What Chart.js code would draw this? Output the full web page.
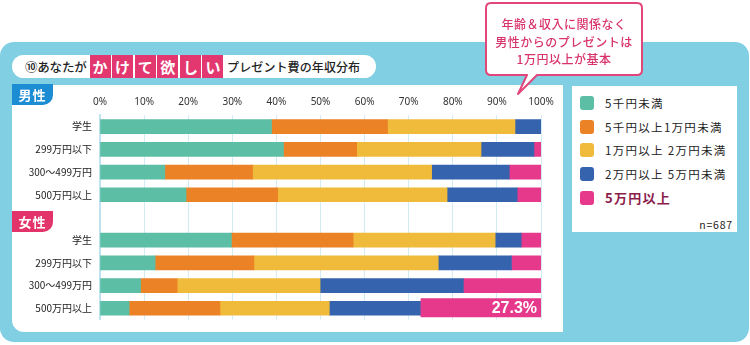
<!DOCTYPE html>
<html lang="ja">
<head>
<meta charset="utf-8">
<script src="https://cdn.jsdelivr.net/npm/chart.js@4"></script>
<style>
  html, body { margin: 0; padding: 0; background: #fff; }
  body { width: 750px; height: 345px; position: relative; overflow: hidden;
         font-family: "Noto Sans CJK JP", "Noto Sans", sans-serif; color: #222; }
  .abs { position: absolute; }
  #outer { left: 0; top: 42px; width: 749px; height: 300px; background: #80cfe3; border-radius: 14px; }
  #plotbg { left: 12px; top: 85px; width: 551px; height: 247px; background: #fff; border-radius: 0 0 0 12px; }
  #pill { left: 12px; top: 55px; width: 364px; height: 23px; background: #fff; border-radius: 12px; }
  #title { left: 25px; top: 55px; height: 23px; display: flex; align-items: center; font-size: 12.5px; font-weight: 500; }
  #title .k { display: inline-block; width: 21px; height: 23px; line-height: 23px; margin-right: 1.6px;
              background: #e2376f; color: #fff; text-align: center; font-size: 15px; font-weight: 700; }
  #title .pre { margin-right: 3px; letter-spacing: -0.2px; }
  #title .post { margin-left: 2px; font-size: 12px; letter-spacing: 0.1px; }
  .badge { left: 12px; width: 41px; height: 21px; color: #fff; font-weight: 700; font-size: 13px;
           line-height: 21px; text-align: center; letter-spacing: 1px; border-radius: 0 0 10px 0; z-index: 3; }
  #male { top: 84px; background: #1d8dd3; }
  #female { top: 211px; background: #e2336b; }
  #legendBox { left: 572px; top: 86px; width: 165px; height: 146px; background: #fff; }
  .li { position: absolute; left: 8px; height: 16px; display: flex; align-items: center; font-size: 11.5px; letter-spacing: 1.3px; }
  .sw { width: 14px; height: 14px; border-radius: 3px; margin-right: 11px; }
  #n { right: 4px; top: 131px; font-size: 10.5px; letter-spacing: 0.8px; }
  canvas { position: absolute; left: 0; top: 0; z-index: 2; }
  #callout { left: 0; top: 0; z-index: 4; }
  #ctext { left: 485px; top: 15px; width: 158px; text-align: center; z-index: 5; color: #d8336a;
           font-size: 12px; font-weight: 500; line-height: 17.5px; letter-spacing: 0.5px; }
</style>
</head>
<body>
<div id="outer" class="abs"></div>
<div id="plotbg" class="abs"></div>
<div id="pill" class="abs"></div>
<div id="title" class="abs">
  <span class="pre">⑩あなたが</span><span class="k">か</span><span class="k">け</span><span class="k">て</span><span class="k">欲</span><span class="k">し</span><span class="k">い</span><span class="post">プレゼント費の年収分布</span>
</div>
<div id="male" class="abs badge">男性</div>
<div id="female" class="abs badge">女性</div>
<div id="legendBox" class="abs"><div id="n" class="abs">n=687</div></div>
<canvas id="chart" width="750" height="345"></canvas>
<svg id="callout" class="abs" width="750" height="345">
  <path d="M491 3 H637 Q642 3 642 8 V70 Q642 75 637 75 H537 L518 94 L527 75 H491 Q486 75 486 70 V8 Q486 3 491 3 Z"
        fill="#fff" stroke="#e2467a" stroke-width="2" stroke-linejoin="round"/>
</svg>
<div id="ctext" class="abs">年齢＆収入に関係なく<br>男性からのプレゼントは<br>1万円以上が基本</div>

<script>
// カテゴリ(男性4行・空行・女性4行)
const groups = ['学生', '299万円以下', '300～499万円', '500万円以上'];
const categories = [...groups, '', ...groups];

const seriesNames = ['5千円未満', '5千円以上1万円未満', '1万円以上 2万円未満', '2万円以上 5万円未満', '5万円以上'];
const seriesColors = ['#5bbea5', '#ec8226', '#f0bb3b', '#3563ae', '#e6398b'];

// 男性 (%)
const maleU5k    = [38.9, 41.6, 14.7, 19.5];
const male5k10k  = [26.3, 16.6, 19.9, 20.8];
const male10k20k = [28.9, 28.2, 40.6, 38.4];
const male20k50k = [5.9, 12.0, 17.6, 15.9];
const maleO50k   = [0, 1.6, 7.2, 5.4];

// 女性 (%)
const femaleU5k    = [29.8, 12.5, 9.2, 6.6];
const female5k10k  = [27.6, 22.4, 8.3, 20.6];
const female10k20k = [32.2, 41.8, 32.4, 24.8];
const female20k50k = [5.9, 16.6, 32.5, 20.7];
const femaleO50k   = [4.5, 6.7, 17.6, 27.3];

const xTicks = [0, 10, 20, 30, 40, 50, 60, 70, 80, 90, 100];

const maleSets = [maleU5k, male5k10k, male10k20k, male20k50k, maleO50k];
const femaleSets = [femaleU5k, female5k10k, female10k20k, female20k50k, femaleO50k];

// HTML凡例
const legendBox = document.getElementById('legendBox');
seriesNames.forEach((name, i) => {
    const row = document.createElement('div');
    row.className = 'li';
    row.style.top = (9 + i * 23.7) + 'px';
    const sw = document.createElement('span');
    sw.className = 'sw';
    sw.style.background = seriesColors[i];
    const tx = document.createElement('span');
    tx.textContent = name;
    if (i === 4) { tx.style.fontWeight = '700'; tx.style.color = '#8c1c4c'; tx.style.fontSize = '13px'; }
    row.appendChild(sw);
    row.appendChild(tx);
    legendBox.appendChild(row);
});

// 女性500万円以上の「5万円以上」を強調
const highlight = {
    id: 'highlight',
    afterDatasetsDraw(chart) {
        const el = chart.getDatasetMeta(4).data[8];
        const ctx = chart.ctx;
        const h = 19;
        ctx.save();
        ctx.fillStyle = seriesColors[4];
        ctx.fillRect(el.base, el.y - h / 2 - 0.5, el.x - el.base, h);
        ctx.fillStyle = '#fff';
        ctx.font = 'bold 16px "Liberation Sans", Arial, sans-serif';
        ctx.textAlign = 'right';
        ctx.textBaseline = 'middle';
        ctx.fillText(femaleO50k[3].toFixed(1) + '%', el.x - 4, el.y);
        ctx.restore();
    }
};

new Chart(document.getElementById('chart'), {
    type: 'bar',
    data: {
        labels: categories,
        datasets: seriesNames.map((name, i) => ({
            label: name,
            data: [...maleSets[i], null, ...femaleSets[i]],
            backgroundColor: seriesColors[i],
            borderWidth: 0,
            barThickness: 14
        }))
    },
    options: {
        indexAxis: 'y',
        responsive: false,
        animation: false,
        layout: { padding: { right: 209, bottom: 25.4 } },
        plugins: { legend: { display: false }, tooltip: { enabled: false } },
        scales: {
            x: {
                position: 'top',
                stacked: true,
                min: 0,
                max: 100,
                afterBuildTicks: (s) => { s.ticks = xTicks.map(v => ({ value: v })); },
                afterFit: (s) => { s.height = 115.3; },
                grid: { color: '#d3ebf3', drawTicks: false },
                border: { display: false },
                ticks: {
                    padding: 7,
                    color: '#333',
                    font: { family: '"Noto Sans", sans-serif', size: 10 },
                    callback: (v) => v + '%'
                }
            },
            y: {
                stacked: true,
                afterFit: (s) => { s.width = 100; },
                grid: { display: false, drawTicks: false },
                border: { color: '#bfe3ee', width: 2 },
                ticks: {
                    padding: 8,
                    color: '#222',
                    font: { family: '"Noto Sans CJK JP", sans-serif', size: 10 }
                }
            }
        }
    },
    plugins: [highlight]
});
</script>
</body>
</html>
